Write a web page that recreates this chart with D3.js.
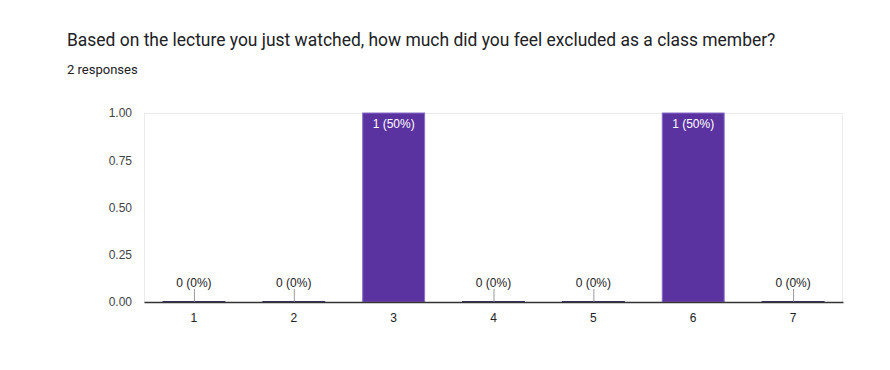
<!DOCTYPE html>
<html><head><meta charset="utf-8">
<script src="https://cdn.jsdelivr.net/npm/d3@7"></script>
<style>body{margin:0;background:#fff}</style>
</head><body>
<svg id="c" width="890" height="370"></svg>
<script>
const categories = ["1","2","3","4","5","6","7"];
const counts = [0,0,1,0,0,1,0];
const percents = ["0%","0%","50%","0%","0%","50%","0%"];
const yTicks = [0,0.25,0.5,0.75,1];
const title = "Based on the lecture you just watched, how much did you feel excluded as a class member?";
const subtitle = "2 responses";

const svg = d3.select("#c");
const m = {l:144, r:843, t:113, b:302};
const x = d3.scaleBand().domain(categories).range([m.l,m.r]).paddingInner(0.37).paddingOuter(0.185);
const y = d3.scaleLinear().domain([0,1]).range([m.b,m.t]);

svg.append("text").attr("x",67).attr("y",46).attr("font-family","Roboto, Arial, sans-serif")
  .attr("font-size",17.45).attr("fill","#202124").text(title);
svg.append("text").attr("x",67).attr("y",74).attr("font-family","Roboto, Arial, sans-serif")
  .attr("font-size",13).attr("fill","#202124").text(subtitle);

// plot border
svg.append("rect").attr("x",m.l+0.5).attr("y",m.t+0.5).attr("width",m.r-m.l-1).attr("height",m.b-m.t)
  .attr("fill","none").attr("stroke","#ebebeb");

// y axis
const ya = svg.append("g").attr("transform",`translate(${m.l},0)`)
  .call(d3.axisLeft(y).tickValues(yTicks).tickFormat(d3.format(".2f")).tickSize(0).tickPadding(12));
ya.select(".domain").remove();
ya.selectAll("text").attr("font-family","Arial, 'Liberation Sans', sans-serif").attr("font-size",12).attr("fill","#444");

const lab = (i)=>`${counts[i]} (${percents[i]})`;

// bars
categories.forEach((c,i)=>{
  const v = counts[i];
  if (v>0){
    svg.append("rect").attr("x",x(c)+0.5).attr("y",y(v)).attr("width",x.bandwidth()-1).attr("height",y(0)-y(v))
      .attr("fill","#5b33a0").attr("stroke","#8a6cc8").attr("stroke-width",1);
    svg.append("text").attr("x",x(c)+x.bandwidth()/2).attr("y",y(v)+15).attr("text-anchor","middle")
      .attr("font-family","Arial, 'Liberation Sans', sans-serif").attr("font-size",12).attr("fill","#fff").text(lab(i));
  } else {
    svg.append("line").attr("x1",x(c)).attr("x2",x(c)+x.bandwidth()).attr("y1",y(0)-0.5).attr("y2",y(0)-0.5)
      .attr("stroke","#3c2f6a").attr("stroke-width",1);
    const cx = x(c)+x.bandwidth()/2;
    svg.append("line").attr("x1",cx+0.5).attr("x2",cx+0.5).attr("y1",y(0)-13).attr("y2",y(0))
      .attr("stroke","#999").attr("stroke-width",1);
    svg.append("text").attr("x",cx).attr("y",y(0)-15).attr("text-anchor","middle")
      .attr("font-family","Arial, 'Liberation Sans', sans-serif").attr("font-size",12).attr("fill","#222").text(lab(i));
  }
});

// x axis
const xa = svg.append("g").attr("transform",`translate(0,${m.b})`)
  .call(d3.axisBottom(x).tickSize(0).tickPadding(11));
xa.select(".domain").attr("stroke","#333").attr("stroke-width",1.5);
xa.selectAll("text").attr("font-family","Arial, 'Liberation Sans', sans-serif").attr("font-size",12).attr("fill","#222");
</script>
</body></html>
